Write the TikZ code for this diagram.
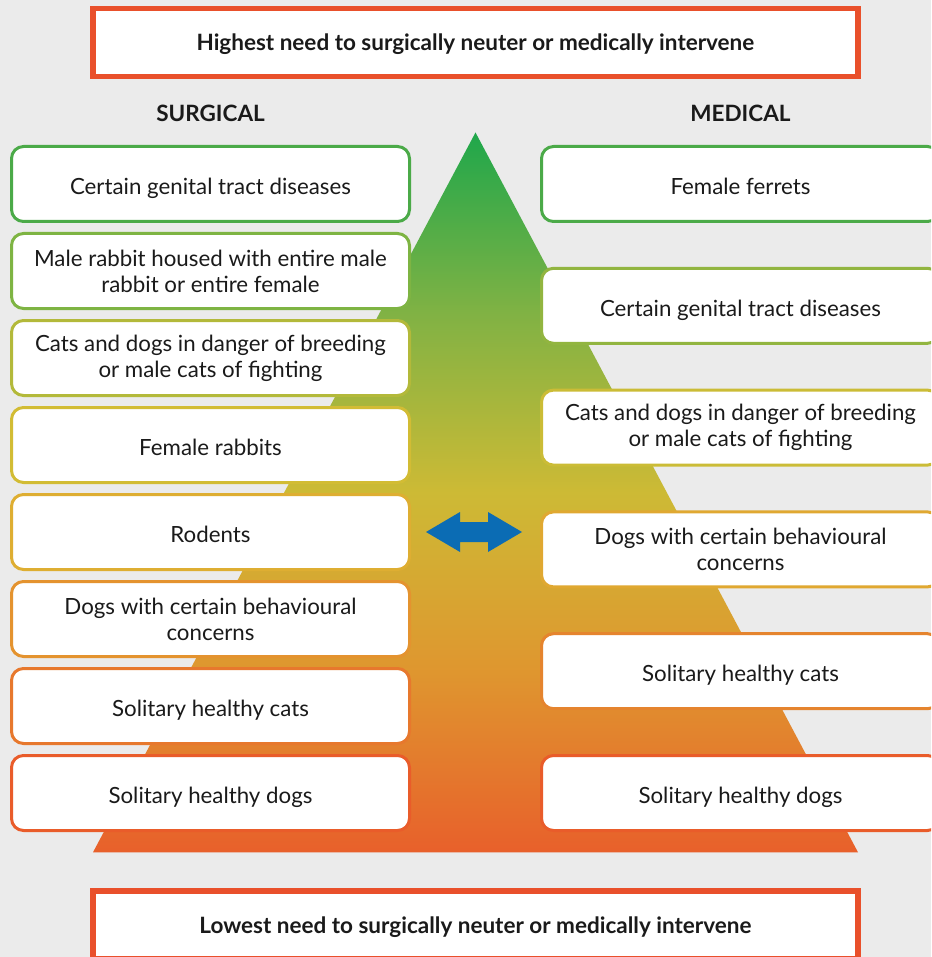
\documentclass[tikz,border=0pt]{standalone}
\usepackage{fontspec}
\setmainfont{Lato}
\usepackage{tikz}

\definecolor{pagegrey}{HTML}{EBEBEB}
\definecolor{needred}{HTML}{E9502B}
\definecolor{arrowblue}{HTML}{0B6CB4}
\definecolor{inkblack}{HTML}{1A1A1A}
% pyramid stops, bottom to top
\definecolor{pyrA}{HTML}{E8602B}
\definecolor{pyrB}{HTML}{DF962F}
\definecolor{pyrC}{HTML}{CDBA35}
\definecolor{pyrD}{HTML}{80B244}
\definecolor{pyrE}{HTML}{1FA74B}
% card rims, top to bottom
\definecolor{rimA}{HTML}{4BAA48}
\definecolor{rimB}{HTML}{7EB443}
\definecolor{rimC}{HTML}{92B540}
\definecolor{rimD}{HTML}{B3B93A}
\definecolor{rimE}{HTML}{CBBC36}
\definecolor{rimF}{HTML}{D2BC34}
\definecolor{rimG}{HTML}{DEAE32}
\definecolor{rimH}{HTML}{E0A831}
\definecolor{rimI}{HTML}{E4932F}
\definecolor{rimJ}{HTML}{E5842E}
\definecolor{rimK}{HTML}{E7782D}
\definecolor{rimL}{HTML}{E95C2A}
% the path is fitted to the middle half of the shading
\pgfdeclareverticalshading{pyramid}{100bp}{color(0bp)=(pyrA); color(25bp)=(pyrA); color(37.5bp)=(pyrB); color(50bp)=(pyrC); color(62.5bp)=(pyrD); color(75bp)=(pyrE); color(100bp)=(pyrE)}
\newcommand{\cardfont}{\fontsize{22.3}{26}\selectfont}
\newcommand{\headfont}{\fontsize{22.5}{26}\selectfont\bfseries}

\tikzset{
	card/.style={draw=#1, line width=3pt, fill=white, rounded corners=12pt, minimum width=398pt, minimum height=75pt, inner sep=0pt, align=center, font=\cardfont, text=inkblack},
	oneline/.style={text height=20.6pt, text depth=0pt},
	banner/.style={draw=needred, line width=5.5pt, fill=white, minimum width=765pt, minimum height=68pt, inner sep=0pt, font=\headfont, text=inkblack, text height=16pt, text depth=0pt},
	colhead/.style={font=\headfont, text=inkblack}
}

\begin{document}
\begin{tikzpicture}[x=1pt, y=-1pt]
		\fill[pagegrey](0, 0)rectangle(931, 957);
		\useasboundingbox(0, 0)rectangle(931, 957);
		\clip(0, 0)rectangle(931, 957);
		\shade[shading=pyramid](475.5, 132.5)--(858, 852.3)--(93, 852.3)--cycle;
		\node[banner](highest)at(475.4, 42.6){Highest need to surgically neuter or medically intervene};
		\node[banner](lowest)at(475.4, 925){Lowest need to surgically neuter or medically intervene};
		\node[colhead](surgical)at(210.5, 113.5){SURGICAL};
		\node[colhead](medical)at(740.5, 113.5){MEDICAL};
		% surgical column
		\node[card=rimA, oneline](sGenital)at(210.5, 184){Certain genital tract diseases};
		\node[card=rimB](sMaleRabbit)at(210.5, 271){Male rabbit housed with entire male\\rabbit or entire female};
		\node[card=rimD](sBreeding)at(210.5, 358){Cats and dogs in danger of breeding\\or male cats of fighting};
		\node[card=rimF, oneline](sFemaleRabbit)at(210.5, 445){Female rabbits};
		\node[card=rimG, oneline](sRodents)at(210.5, 532){Rodents};
		\node[card=rimI](sBehaviour)at(210.5, 619){Dogs with certain behavioural\\concerns};
		\node[card=rimK, oneline](sCats)at(210.5, 706){Solitary healthy cats};
		\node[card=rimL, oneline](sDogs)at(210.5, 793){Solitary healthy dogs};
		% medical column
		\node[card=rimA, oneline](mFerrets)at(740.5, 184){Female ferrets};
		\node[card=rimC, oneline](mGenital)at(740.5, 305.8){Certain genital tract diseases};
		\node[card=rimE](mBreeding)at(740.5, 427.6){Cats and dogs in danger of breeding\\or male cats of fighting};
		\node[card=rimH](mBehaviour)at(740.5, 549.4){Dogs with certain behavioural\\concerns};
		\node[card=rimJ, oneline](mCats)at(740.5, 671.2){Solitary healthy cats};
		\node[card=rimL, oneline](mDogs)at(740.5, 793){Solitary healthy dogs};
		% two-way arrow
		\fill[arrowblue](426, 532)--(460, 512)--(460, 522)--(488, 522)--(488, 512)--(522, 532)--(488, 552)--(488, 542)--(460, 542)--(460, 552)--cycle;
	\end{tikzpicture}
\end{document}
